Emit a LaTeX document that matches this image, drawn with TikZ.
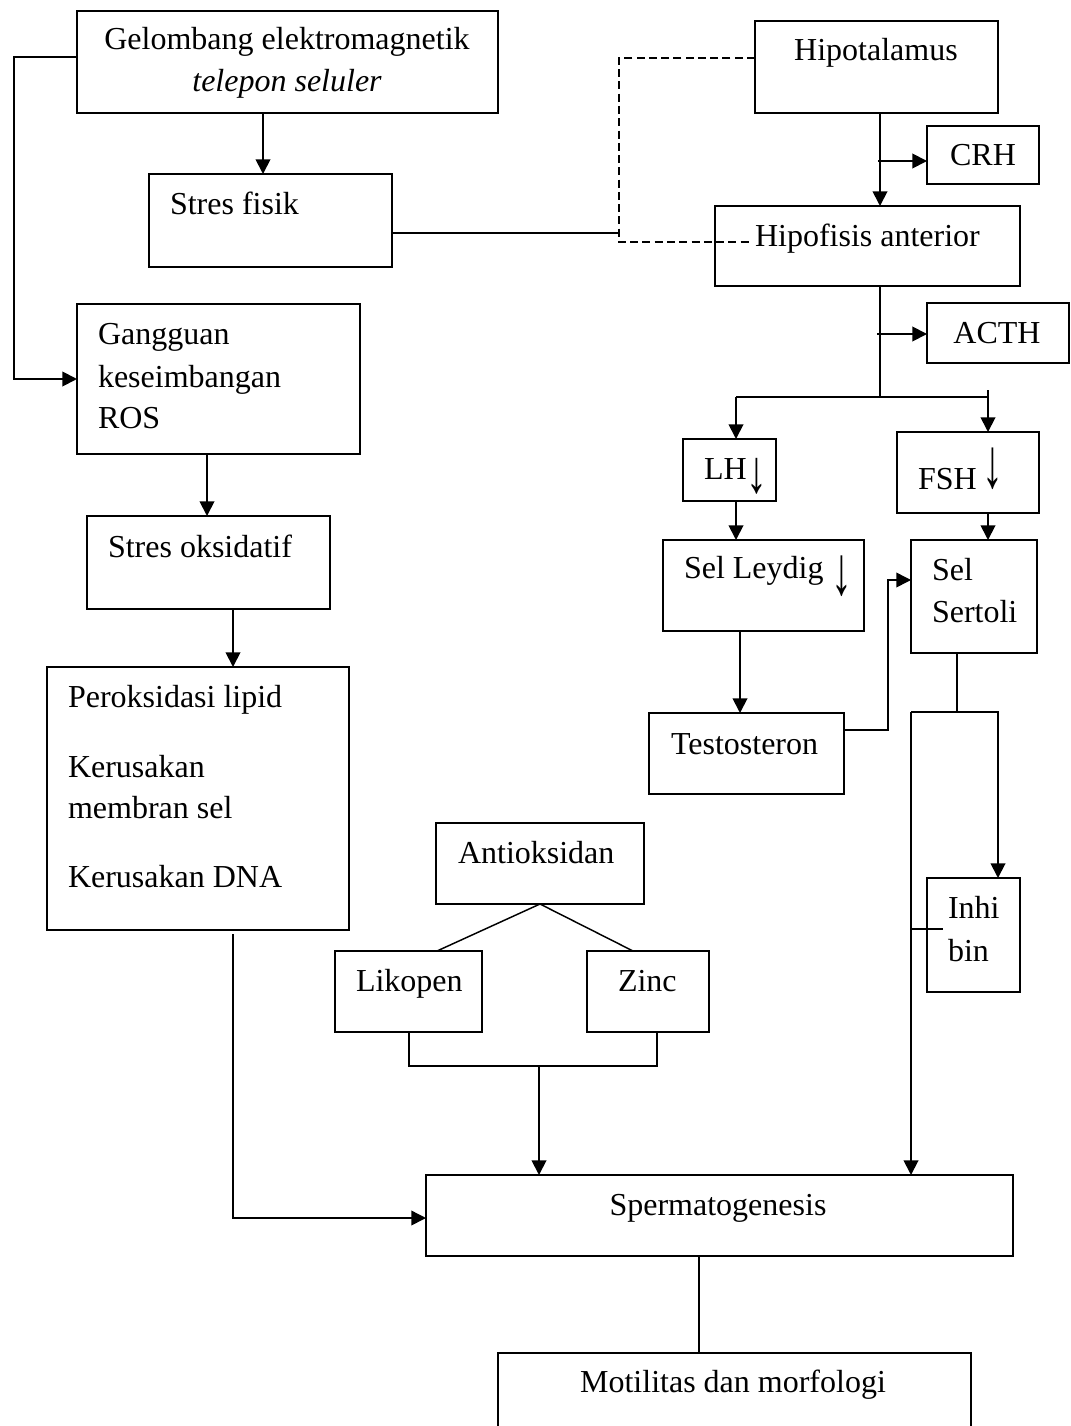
\documentclass[tikz,border=0pt]{standalone}
\usepackage{fontspec}
\usepackage{graphicx}
\setmainfont{Liberation Serif}
\usetikzlibrary{arrows.meta}
\newcommand\mkbox[5]{\node[boxst, minimum width={(#4-#2)*0.375pt}, minimum height={(#5-#3)*0.375pt}] (#1) at ({(#2+#4)/2},{(#3+#5)/2}) {};}
\newcommand\darr[2]{\raisebox{#1}{\scalebox{1.3}[#2]{↓}}}
\begin{document}
\begin{tikzpicture}[x=0.375pt,y=-0.375pt,
  boxst/.style={draw, line width=0.7pt, inner sep=0pt, outer sep=0pt},
  txt/.style={inner sep=0pt, outer sep=0pt, anchor=base west, font=\fontsize{12pt}{14.4pt}\selectfont},
  txtc/.style={txt, anchor=base},
  arr/.style={line width=0.7pt, -{Triangle[length=5.5pt,width=5.5pt]}},
  tarr/.style={line width=0.55pt, -{Triangle[length=5.5pt,width=5.5pt]}},
  ln/.style={line width=0.7pt},
  tln/.style={line width=0.55pt},
  dsh/.style={line width=0.55pt, dash pattern=on 3pt off 1.6pt}]
\useasboundingbox (0,0) rectangle (1071,1426);
% boxes
\mkbox{gel}{77}{11}{498}{113}
\mkbox{sf}{149}{174}{392}{267}
\mkbox{gg}{77}{304}{360}{454}
\mkbox{so}{87}{516}{330}{609}
\mkbox{pl}{47}{667}{349}{930}
\mkbox{hip}{755}{21}{998}{113}
\mkbox{crh}{927}{126}{1039}{184}
\mkbox{hpa}{715}{206}{1020}{286}
\mkbox{acth}{927}{303}{1069}{363}
\mkbox{lh}{683}{439}{776}{501}
\mkbox{fsh}{897}{432}{1039}{513}
\mkbox{ley}{663}{540}{864}{631}
\mkbox{ser}{911}{540}{1037}{653}
\mkbox{tes}{649}{713}{844}{794}
\mkbox{ant}{436}{823}{644}{904}
\mkbox{lik}{335}{951}{482}{1032}
\mkbox{zn}{587}{951}{709}{1032}
\mkbox{inh}{927}{878}{1020}{992}
\mkbox{spg}{426}{1175}{1013}{1256}
\mkbox{mot}{498}{1353}{971}{1470}
% texts
\node[txtc] (t1) at (287,50) {Gelombang elektromagnetik};
\node[txtc] (t2) at (287,92) {\itshape telepon seluler};
\node[txt] (t3) at (170,215) {Stres fisik};
\node[txt] (t4) at (98,344) {Gangguan};
\node[txt] (t5) at (98,387) {keseimbangan};
\node[txt] (t6) at (98,428) {ROS};
\node[txt] (t7) at (108,557) {Stres oksidatif};
\node[txt] (t8) at (68,707) {Peroksidasi lipid};
\node[txt] (t9) at (68,777) {Kerusakan};
\node[txt] (t10) at (68,818) {membran sel};
\node[txt] (t11) at (68,887) {Kerusakan DNA};
\node[txtc] (t12) at (876,61) {Hipotalamus};
\node[txtc] (t13) at (983,166) {CRH};
\node[txt] (t14) at (755,246) {Hipofisis anterior};
\node[txtc] (t15) at (997,343) {ACTH};
\node[txt] (t16) at (704,479) {LH\darr{-4.9pt}{1.9}};
\node[txt] (t17) at (918,489) {FSH\hspace{2pt}\darr{0.6pt}{2.2}};
\node[txt] (t18) at (684,578) {Sel Leydig \darr{-6.3pt}{2.15}};
\node[txt] (t19) at (932,580) {Sel};
\node[txt] (t20) at (932,622) {Sertoli};
\node[txt] (t21) at (671,754) {Testosteron};
\node[txt] (t22) at (458,863) {Antioksidan};
\node[txt] (t23) at (356,991) {Likopen};
\node[txt] (t24) at (618,991) {Zinc};
\node[txt] (t25) at (948,918) {Inhi};
\node[txt] (t26) at (948,961) {bin};
\node[txtc] (t27) at (718,1215) {Spermatogenesis};
\node[txtc] (t28) at (733,1392) {Motilitas dan morfologi};
% helper coordinates
\coordinate (k1) at (14,57);
\coordinate (k2) at (263,0);
\coordinate (k3) at (619,233);
\coordinate (k4) at (619,58);
\coordinate (k5) at (752,242);
\coordinate (k6) at (880,0);
\coordinate (k7) at (878,161);
\coordinate (k8) at (880,397);
\coordinate (k9) at (877,334);
\coordinate (k10) at (736,397);
\coordinate (k11) at (988,397);
\coordinate (k12) at (988,390);
\coordinate (k13) at (740,0);
\coordinate (k14) at (888,730);
\coordinate (k15) at (888,580);
\coordinate (k16) at (957,712);
\coordinate (k17) at (911,712);
\coordinate (k18) at (998,712);
\coordinate (k19) at (943,929);
\coordinate (k20) at (437,0);
\coordinate (k21) at (633,0);
\coordinate (k22) at (409,1066);
\coordinate (k23) at (657,1066);
\coordinate (k24) at (539,1066);
\coordinate (k25) at (233,934);
\coordinate (k26) at (233,1218);
\coordinate (k27) at (699,0);
\coordinate (k28) at (207,0);
% connectors
\draw[arr] (gel.west |- k1) -- (k1) |- (gg.west);
\draw[arr] (gel.south -| k2) -- (sf.north -| k2);
\draw[tln] (sf.east |- k3) -- (k3);
\draw[dsh] (hip.west |- k4) -- (k4) |- (k5);
\draw[arr] (hip.south -| k6) -- (hpa.north -| k6);
\draw[arr] (k7) -- (crh.west |- k7);
\draw[ln] (hpa.south -| k8) -- (k8);
\draw[arr] (k9) -- (acth.west |- k9);
\draw[ln] (k10) -- (k11);
\draw[arr] (k10) -- (lh.north -| k10);
\draw[arr] (k12) -- (fsh.north -| k12);
\draw[arr] (lh.south -| k10) -- (ley.north -| k10);
\draw[arr] (fsh.south -| k12) -- (ser.north -| k12);
\draw[arr] (ley.south -| k13) -- (tes.north -| k13);
\draw[tarr] (tes.east |- k14) -- (k14) -- (k15) -- (ser.west |- k15);
\draw[tln] (ser.south -| k16) -- (k16);
\draw[arr] (k17) -- (k18) -- (inh.north -| k18);
\draw[arr] (k17) -- (spg.north -| k17);
\draw[tln] (k17 |- k19) -- (k19);
\draw[tln] (lik.north -| k20) -- (ant.south) -- (zn.north -| k21);
\draw[tln] (lik.south -| k22) -- (k22) -- (k23) -- (zn.south -| k23);
\draw[arr] (k24) -- (spg.north -| k24);
\draw[arr] (gg.south -| k28) -- (so.north -| k28);
\draw[arr] (so.south -| k25) -- (pl.north -| k25);
\draw[tarr] (k25) -- (k26) -- (spg.west |- k26);
\draw[ln] (spg.south -| k27) -- (mot.north -| k27);
\end{tikzpicture}
\end{document}
